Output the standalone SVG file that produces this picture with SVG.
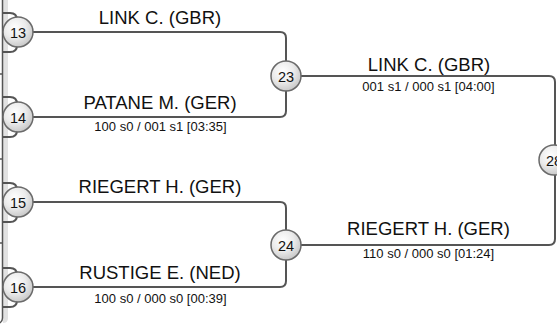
<svg xmlns="http://www.w3.org/2000/svg" width="557" height="331" viewBox="0 0 557 331">
<defs>
<radialGradient id="g" cx="0.4" cy="0.35" r="0.7">
<stop offset="0" stop-color="#ffffff"/>
<stop offset="0.5" stop-color="#ececec"/>
<stop offset="1" stop-color="#c4c4c4"/>
</radialGradient>
<style>
.c{fill:none;stroke:#555;stroke-width:2}
.n{fill:url(#g);stroke:#6a6a6a;stroke-width:1.5}
.num{font-family:"Liberation Sans",Arial,sans-serif;font-size:14.5px;fill:#111;text-anchor:middle}
.name{font-family:"Liberation Sans",Arial,sans-serif;font-size:18.5px;fill:#111;text-anchor:middle}
.score{font-family:"Liberation Sans",Arial,sans-serif;font-size:13px;fill:#111;text-anchor:middle}
</style>
</defs>
<rect width="557" height="331" fill="#fff"/>
<g id="edge">
<path d="M3,0 H8 V318 Q8,323 3,323 Z" fill="#e2e2e2"/>
<path d="M2.5,0 V318 Q2.5,321 0,323" fill="none" stroke="#555" stroke-width="1.5"/>
<path d="M0,74 H2 M0,159 H2 M0,243 H2" stroke="#555" stroke-width="1.5"/>
</g>
<g id="connectors">
<path class="c" d="M2,13 H10 Q17,13 17,20 V32"/>
<path class="c" d="M2,52 H10 Q17,52 17,45 V32"/>
<path class="c" d="M2,97 H10 Q17,97 17,104 V117"/>
<path class="c" d="M2,137 H10 Q17,137 17,130 V117"/>
<path class="c" d="M2,183 H10 Q17,183 17,190 V202"/>
<path class="c" d="M2,222 H10 Q17,222 17,215 V202"/>
<path class="c" d="M2,268 H10 Q17,268 17,275 V287"/>
<path class="c" d="M2,307 H10 Q17,307 17,300 V287"/>
<path class="c" d="M18,32 H280 Q286,32 286,38 V76"/>
<path class="c" d="M18,117 H280 Q286,117 286,111 V76"/>
<path class="c" d="M18,202 H280 Q286,202 286,208 V245"/>
<path class="c" d="M18,287 H280 Q286,287 286,281 V245"/>
<path class="c" d="M286,76 H549 Q555,76 555,82 V160"/>
<path class="c" d="M286,245 H549 Q555,245 555,239 V160"/>
</g>
<g id="n13"><circle class="n" cx="18" cy="32" r="15"/><text class="num" x="18" y="37.5">13</text></g>
<g id="n14"><circle class="n" cx="18" cy="117" r="15"/><text class="num" x="18" y="122.5">14</text></g>
<g id="n15"><circle class="n" cx="18" cy="202" r="15"/><text class="num" x="18" y="207.5">15</text></g>
<g id="n16"><circle class="n" cx="18" cy="287" r="15"/><text class="num" x="18" y="292.5">16</text></g>
<g id="n23"><circle class="n" cx="286" cy="76" r="15"/><text class="num" x="286" y="81.5">23</text></g>
<g id="n24"><circle class="n" cx="286" cy="245" r="15"/><text class="num" x="286" y="250.5">24</text></g>
<g id="n28"><circle class="n" cx="554" cy="160" r="15"/><text class="num" x="554" y="165.5">28</text></g>
<g id="labels">
<text class="name" x="160" y="24">LINK C. (GBR)</text>
<text class="name" x="160" y="109">PATANE M. (GER)</text>
<text class="score" x="160.5" y="131">100 s0 / 001 s1 [03:35]</text>
<text class="name" x="160" y="193">RIEGERT H. (GER)</text>
<text class="name" x="160" y="279">RUSTIGE E. (NED)</text>
<text class="score" x="160.5" y="303">100 s0 / 000 s0 [00:39]</text>
<text class="name" x="429" y="70.5">LINK C. (GBR)</text>
<text class="score" x="428.5" y="90.5">001 s1 / 000 s1 [04:00]</text>
<text class="name" x="428.5" y="235">RIEGERT H. (GER)</text>
<text class="score" x="428.5" y="258">110 s0 / 000 s0 [01:24]</text>
</g>
</svg>
